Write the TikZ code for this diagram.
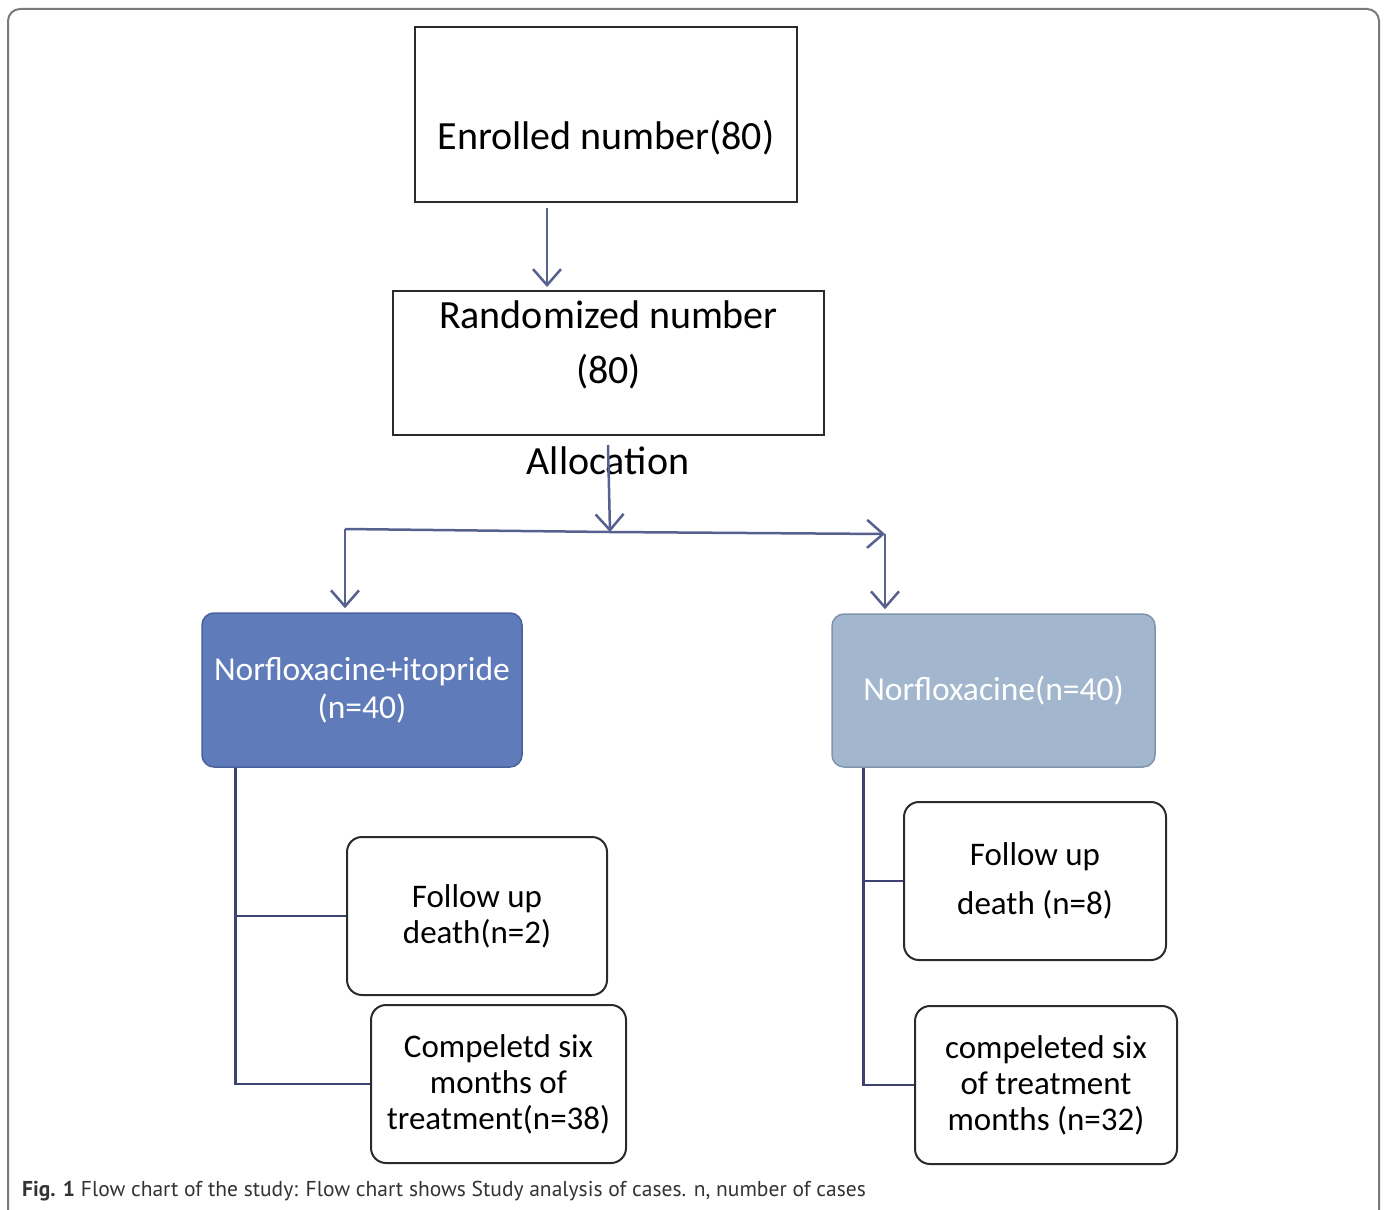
\documentclass[tikz,border=0pt]{standalone}
\usepackage{fontspec}
\setmainfont{Carlito}
\newfontfamily\capfont{PT Sans}
\usetikzlibrary{arrows.meta}
\definecolor{frameline}{HTML}{7A7A7A}
\definecolor{boxline}{HTML}{2B2B2B}
\definecolor{connline}{HTML}{56618F}
\definecolor{bracketline}{HTML}{3E4272}
\definecolor{armAfill}{HTML}{5F7BBA}
\definecolor{armAline}{HTML}{4A629C}
\definecolor{armBfill}{HTML}{A2B6CD}
\definecolor{armBline}{HTML}{8194AE}
\definecolor{captext}{HTML}{333333}
\begin{document}
\begin{tikzpicture}[x=1pt,y=-1pt,
  plainbox/.style={draw=boxline,line width=2pt,rectangle,inner sep=0pt},
  roundbox/.style={draw=boxline,line width=2pt,rectangle,rounded corners=15pt,
    inner sep=0pt,align=center,font=\fontsize{33}{36}\selectfont},
  armbox/.style={rectangle,rounded corners=12pt,inner sep=0pt,align=center,
    line width=1.5pt,text=white,font=\fontsize{33.5}{38}\selectfont},
  bigtext/.style={inner sep=0pt,align=center,font=\fontsize{40}{55}\selectfont},
  conn/.style={draw=connline,line width=2.5pt,
    -{Straight Barb[length=16pt,width=28pt,line width=2.5pt]}},
  plainconn/.style={draw=connline,line width=2.5pt},
  bracket/.style={draw=bracketline,line width=2.5pt}]
\useasboundingbox (0,0) rectangle (1388,1209);
\fill[white] (0,0) rectangle (1388,1209);
% outer panel frame
\draw[frameline,line width=2pt,rounded corners=12pt] (8,1240) -- (8,9) -- (1379,9) -- (1379,1240);

% top boxes
\node[plainbox,minimum width=382pt,minimum height=175pt] (enrol) at (606,114.5) {};
\node[bigtext] (enroltxt) at (606,138) {Enrolled number(80)};
\node[plainbox,minimum width=431pt,minimum height=144pt] (rand) at (608.5,363) {};
\node[bigtext] (randtxt) at (608.5,345) {Randomized number\\(80)};
\node[bigtext] (alloc) at (608,461) {Allocation};

% treatment arms
\node[armbox,fill=armAfill,draw=armAline,minimum width=320pt,minimum height=154pt] (grpA) at (362,690)
  {Norfloxacine+itopride\\(n=40)};
\node[armbox,fill=armBfill,draw=armBline,minimum width=323pt,minimum height=153pt] (grpB) at (993.5,690.5)
  {Norfloxacine(n=40)};

% outcome boxes
\node[roundbox,minimum width=260pt,minimum height=158pt] (fuA) at (477,916) {Follow up\\death(n=2)};
\node[roundbox,minimum width=255pt,minimum height=158pt] (cpA) at (498.5,1084)
  {Compeletd six\\months of\\treatment(n=38)};
\node[roundbox,minimum width=262pt,minimum height=158pt,font=\fontsize{33}{49}\selectfont] (fuB) at (1035,881)
  {Follow up\\death (n=8)};
\node[roundbox,minimum width=262pt,minimum height=158pt] (cpB) at (1046,1085)
  {compeleted six\\of treatment\\months (n=32)};

% connectors
\draw[conn,shorten <=5pt,shorten >=3pt] ([xshift=-59pt]enrol.south) -- ([xshift=-61.5pt]rand.north);
\coordinate (split) at (610,532);
\coordinate (hl) at (345,529);
\coordinate (hr) at (885,534);
\draw[conn] ([yshift=16pt]alloc.center) -- (split);
\draw[plainconn] (hl) -- (split);
\draw[conn] (split) -- (hr);
\draw[conn,shorten >=4pt] (hl) -- (hl |- grpA.north);
\draw[conn,shorten >=4pt] (hr) -- (hr |- grpB.north);

% brackets to outcomes
\draw[bracket] ([xshift=34pt]grpA.south west) |- (fuA.west);
\draw[bracket] ([xshift=34pt]grpA.south west) |- (cpA.west);
\draw[bracket] ([xshift=32pt]grpB.south west) |- (fuB.west);
\draw[bracket] ([xshift=32pt]grpB.south west) |- (cpB.west);

% caption
\node[anchor=west,inner sep=0pt,text=captext,font=\capfont\fontsize{21.5}{24}\selectfont] (caption) at (22,1191)
  {\textbf{Fig. 1} Flow chart of the study: Flow chart shows Study analysis of cases. n, number of cases};
\end{tikzpicture}
\end{document}
